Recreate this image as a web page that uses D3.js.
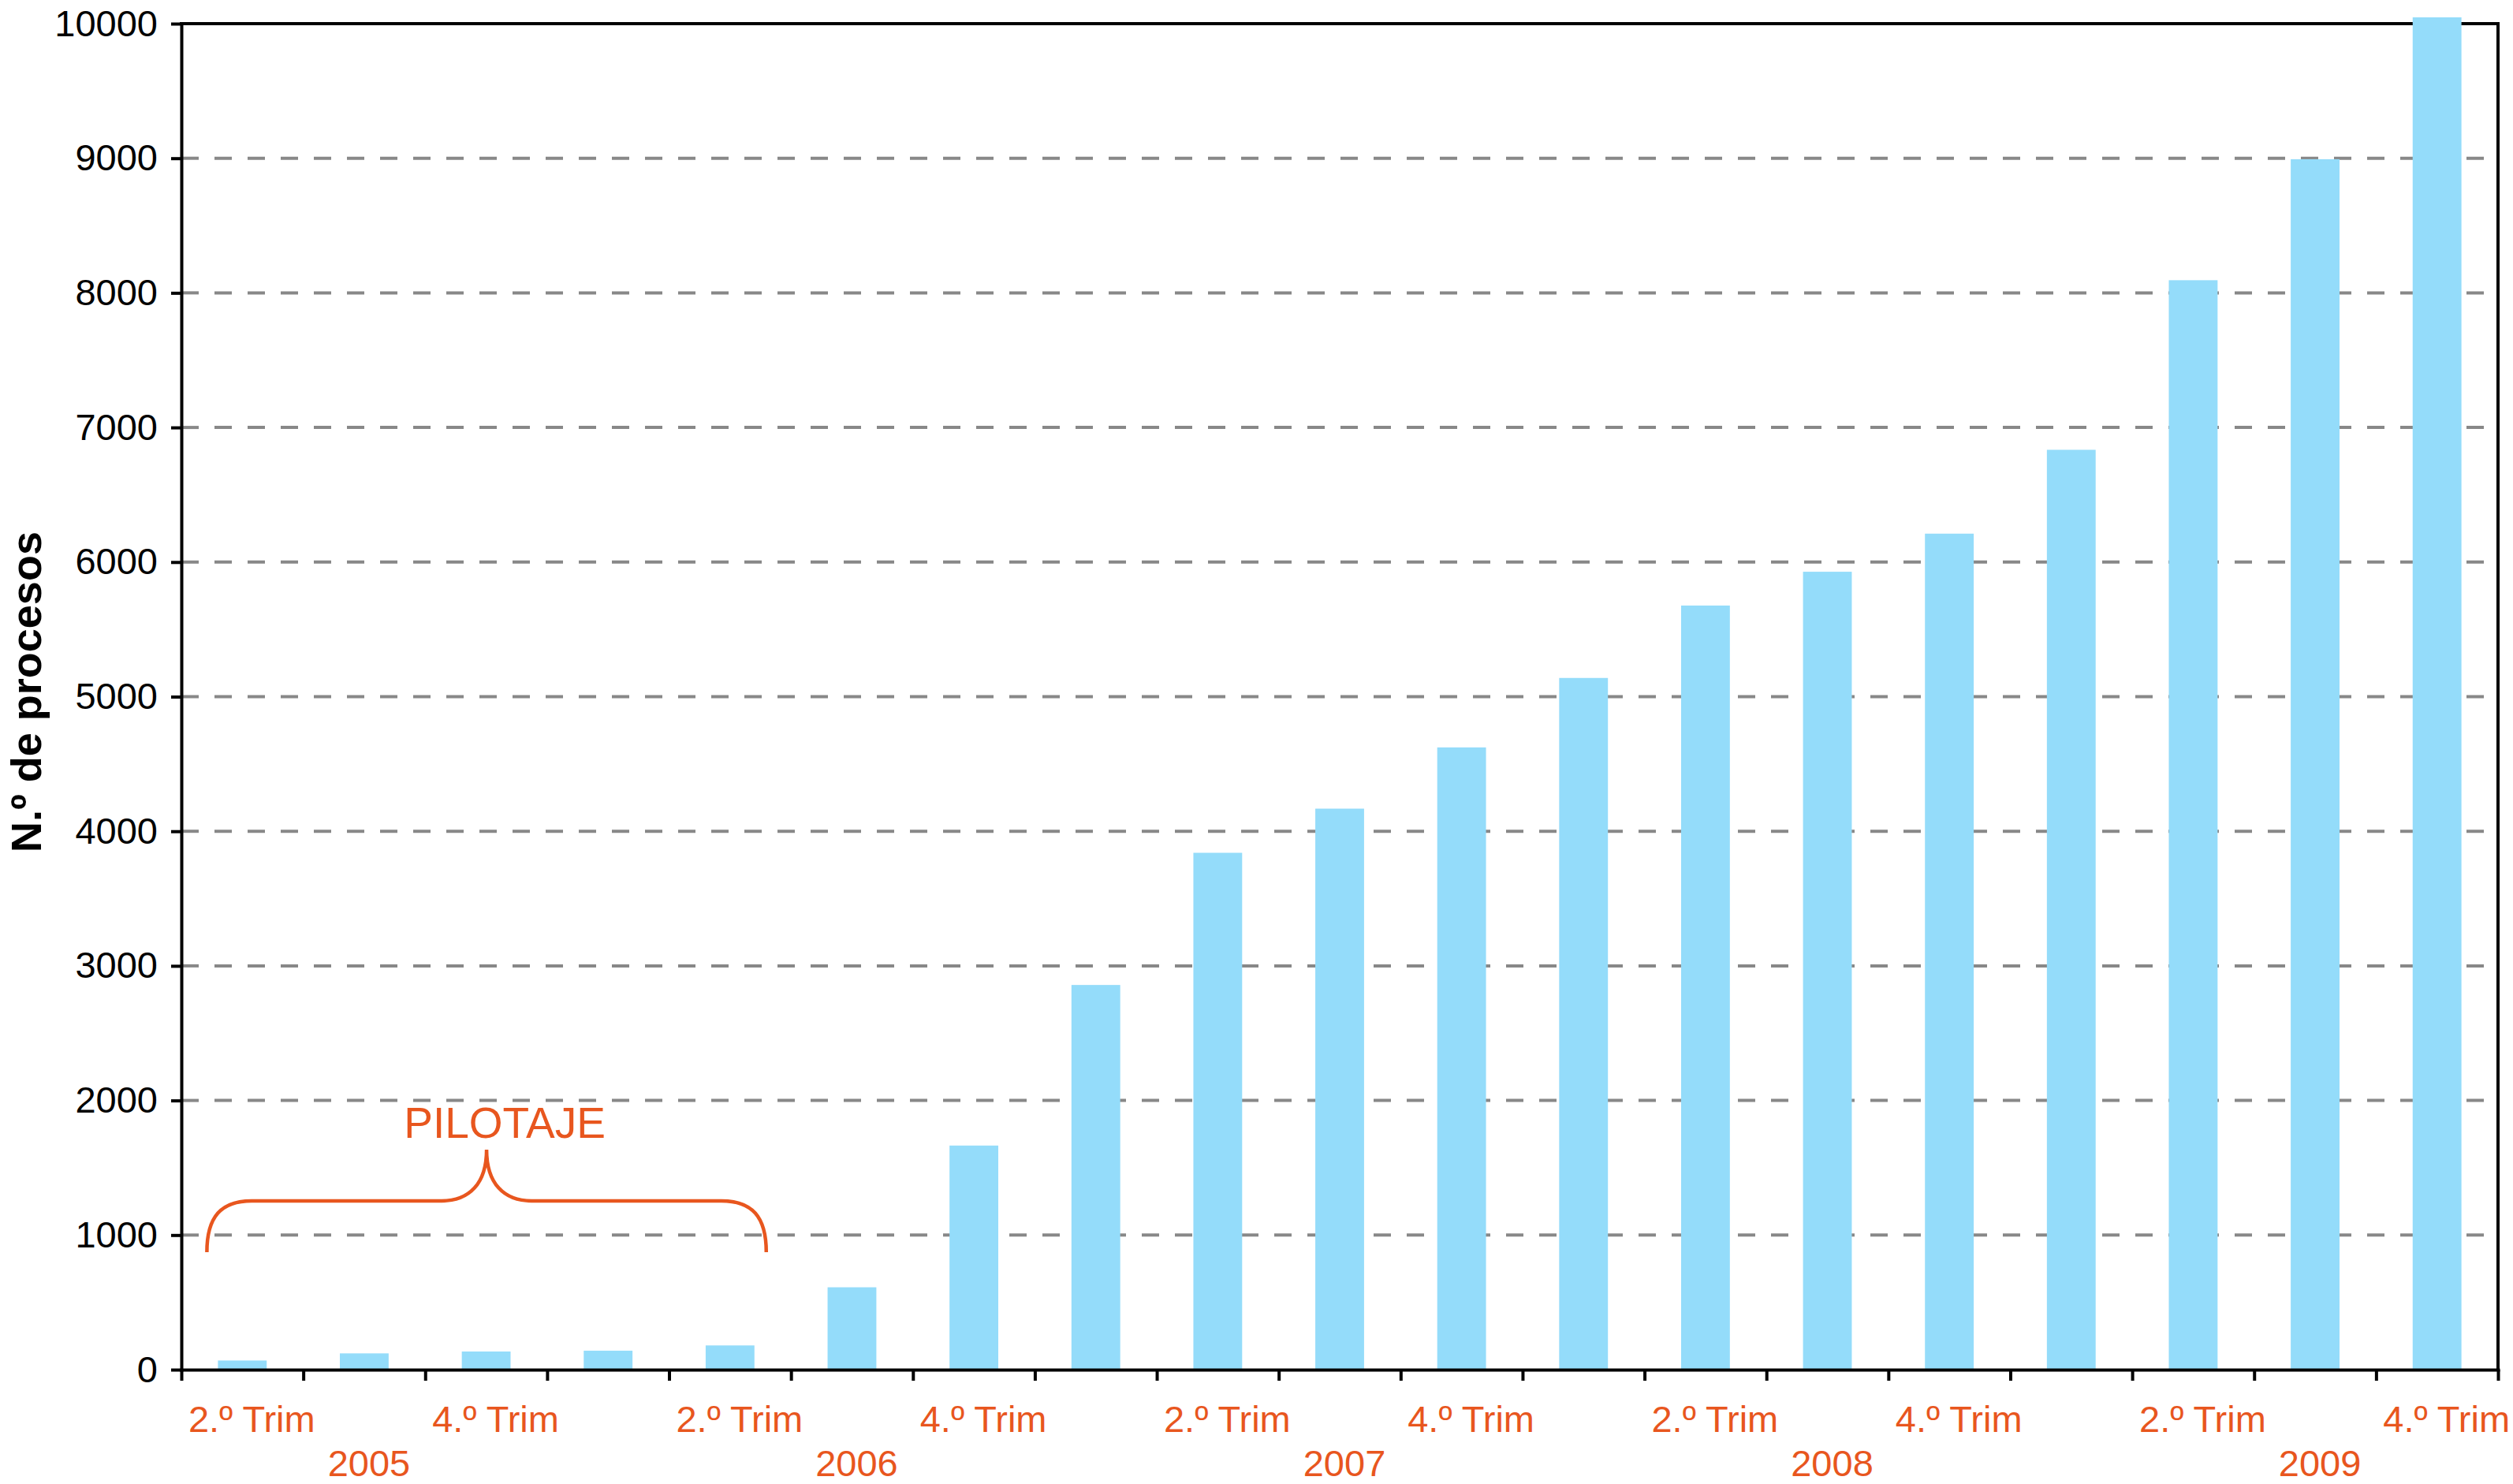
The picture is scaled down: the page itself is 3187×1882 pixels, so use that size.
<!DOCTYPE html>
<html>
<head>
<meta charset="utf-8">
<script src="https://cdn.jsdelivr.net/npm/d3@7"></script>
<style>
  html, body { margin: 0; padding: 0; background: #ffffff; }
  svg { display: block; }
</style>
</head>
<body>
<svg id="chart" width="3187" height="1882"></svg>
<script>
// ---------------- DATA ----------------
const categories = ["2005-T2","2005-T3","2005-T4","2006-T1","2006-T2","2006-T3","2006-T4",
  "2007-T1","2007-T2","2007-T3","2007-T4","2008-T1","2008-T2","2008-T3","2008-T4",
  "2009-T1","2009-T2","2009-T3","2009-T4"];
const quarterLabels = ["2.º Trim","","4.º Trim","","2.º Trim","","4.º Trim","","2.º Trim","",
  "4.º Trim","","2.º Trim","","4.º Trim","","2.º Trim","","4.º Trim"];
const yearLabels = ["","2005","","","","2006","","","","2007","","","","2008","","","","2009",""];
const values = [68,121,135,141,180,612,1665,2858,3840,4168,4623,5139,5677,5928,6211,6834,8094,8993,10047];
const yTicks = [0,1000,2000,3000,4000,5000,6000,7000,8000,9000,10000];
const gridTicks = [1000,2000,3000,4000,5000,6000,7000,8000,9000];
const yTitle = "N.º de procesos";
// annotation: brace over the pilot phase (categories 0..4), heights in data units
const pilotLabel = "PILOTAJE";
const pilotFirst = 0, pilotLast = 4;
const pilotLevels = { low: 873, mid: 1254, tip: 1635, text: 1723 };

(function () {
// ---------------- LAYOUT ----------------
const W = 3187, H = 1882;
const pLeft = 230, pRight = 3168, pTop = 30, pBottom = 1737;
const orange = "#E8561E";
const barColor = "#94DCFA";
const gridColor = "#888888";
const font = "'Liberation Sans', Arial, Helvetica, sans-serif";

const svg = d3.select("#chart");
svg.append("rect").attr("width", W).attr("height", H).attr("fill", "#ffffff");

const x = d3.scaleBand().domain(categories).range([pLeft, pRight])
  .paddingInner(0.6).paddingOuter(0.3);
const xl = d3.scaleLinear().domain([0, categories.length]).range([pLeft, pRight]);
const y = d3.scaleLinear().domain([0, 10000]).range([pBottom, pTop]);

// gridlines
svg.append("g").selectAll("line").data(gridTicks).join("line")
  .attr("x1", pLeft).attr("x2", pRight)
  .attr("y1", d => y(d)).attr("y2", d => y(d))
  .attr("stroke", gridColor).attr("stroke-width", 4)
  .attr("stroke-dasharray", "22 20");

// frame top & right
svg.append("path")
  .attr("d", `M${pLeft},${y(10000)}H${pRight}V${y(0)}`)
  .attr("fill", "none").attr("stroke", "#000").attr("stroke-width", 4)
  .attr("stroke-linecap", "square");

// bars
svg.append("g").selectAll("rect").data(values).join("rect")
  .attr("x", (d, i) => x(categories[i]))
  .attr("width", x.bandwidth())
  .attr("y", d => y(d))
  .attr("height", d => y(0) - y(d))
  .attr("fill", barColor);

// left axis
const gy = svg.append("g").attr("transform", `translate(${pLeft},0)`)
  .call(d3.axisLeft(y).tickValues(yTicks).tickSize(13).tickSizeOuter(0)
    .tickPadding(17).tickFormat(d3.format("d")));
gy.select(".domain").attr("stroke", "#000").attr("stroke-width", 4).attr("stroke-linecap", "square");
gy.selectAll(".tick line").attr("stroke", "#000").attr("stroke-width", 4);
gy.selectAll(".tick text").attr("font-size", 47).attr("font-family", font).attr("fill", "#000");

// bottom axis (ticks at category boundaries)
const gx = svg.append("g").attr("transform", `translate(0,${pBottom})`)
  .call(d3.axisBottom(xl).tickValues(d3.range(0, categories.length + 1))
    .tickSize(14).tickSizeOuter(0).tickFormat(""));
gx.select(".domain").attr("stroke", "#000").attr("stroke-width", 4).attr("stroke-linecap", "square");
gx.selectAll(".tick line").attr("stroke", "#000").attr("stroke-width", 4);

// category labels
const bw = x.bandwidth();
svg.append("g").selectAll("text").data(categories.filter((c, i) => quarterLabels[i])).join("text")
  .attr("x", c => x(c) + bw / 2 + 12)
  .attr("y", 1816)
  .attr("text-anchor", "middle")
  .attr("font-family", font).attr("font-size", 47).attr("fill", orange)
  .text(c => quarterLabels[categories.indexOf(c)]);

svg.append("g").selectAll("text").data(categories.filter((c, i) => yearLabels[i])).join("text")
  .attr("x", c => x(c) + bw / 2 + 6)
  .attr("y", 1872)
  .attr("text-anchor", "middle")
  .attr("font-family", font).attr("font-size", 47).attr("fill", orange)
  .text(c => yearLabels[categories.indexOf(c)]);

// y-axis title
svg.append("text")
  .attr("transform", `translate(52,${(pTop + pBottom) / 2 - 6}) rotate(-90)`)
  .attr("text-anchor", "middle")
  .attr("font-family", font).attr("font-size", 54).attr("font-weight", "bold")
  .attr("fill", "#000")
  .text(yTitle);

// brace annotation
const bx0 = x(categories[pilotFirst]) - 14;
const bx1 = x(categories[pilotLast]) + bw + 15;
const bxm = (bx0 + bx1) / 2;
const yl = y(pilotLevels.low), ym = y(pilotLevels.mid), yt = y(pilotLevels.tip);
const r = 57;
const bracePath =
  `M${bx0},${yl} C${bx0},${ym + 20} ${bx0 + 18},${ym} ${bx0 + r},${ym}` +
  ` L${bxm - r},${ym} C${bxm - 22},${ym} ${bxm},${ym - 22} ${bxm},${yt}` +
  ` C${bxm},${ym - 22} ${bxm + 22},${ym} ${bxm + r},${ym}` +
  ` L${bx1 - r},${ym} C${bx1 - 18},${ym} ${bx1},${ym + 20} ${bx1},${yl}`;
svg.append("path").attr("d", bracePath)
  .attr("fill", "none").attr("stroke", orange).attr("stroke-width", 4.5);

svg.append("text")
  .attr("x", bxm + 23).attr("y", y(pilotLevels.text))
  .attr("text-anchor", "middle")
  .attr("font-family", font).attr("font-size", 55).attr("fill", orange)
  .text(pilotLabel);
})();
</script>
</body>
</html>
